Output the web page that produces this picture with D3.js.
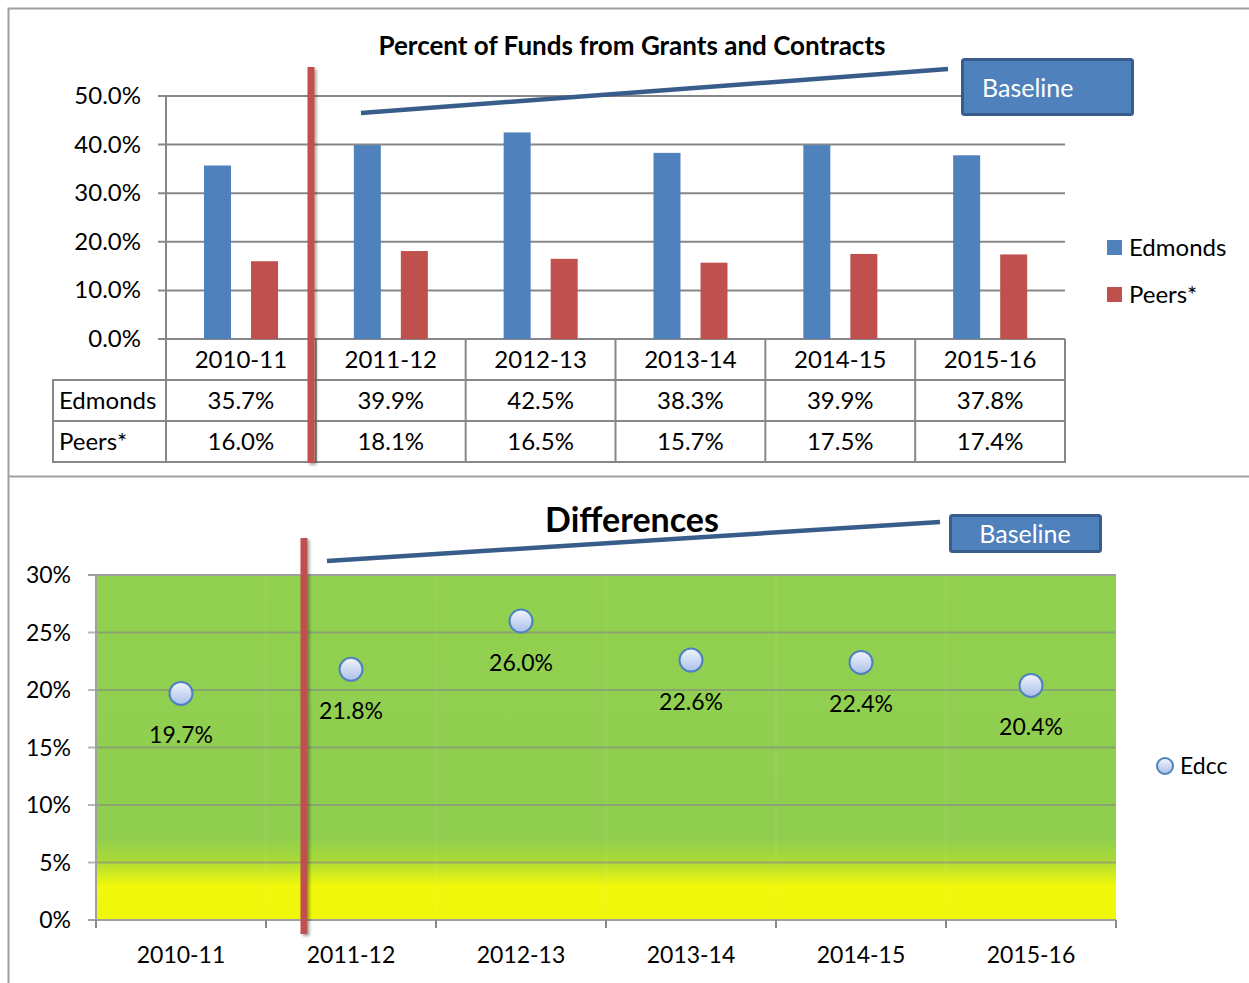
<!DOCTYPE html>
<html lang="en">
<head>
<script src="https://cdnjs.cloudflare.com/ajax/libs/d3/7.8.5/d3.min.js"></script>
<style>
  body { margin: 0; background: #fff; }
  text { font-family: Lato, "Open Sans", sans-serif; fill: #000; }
</style>
</head>
<body>
<svg id="chart" width="1249" height="983"></svg>
<script>
  // data
  const categories = ["2010-11", "2011-12", "2012-13", "2013-14", "2014-15", "2015-16"];
  const seriesNames = ["Edmonds", "Peers*"];
  const edmonds = [35.7, 39.9, 42.5, 38.3, 39.9, 37.8];
  const peers = [16.0, 18.1, 16.5, 15.7, 17.5, 17.4];
  const differences = [19.7, 21.8, 26.0, 22.6, 22.4, 20.4];
  const topTicks = [0, 10, 20, 30, 40, 50];
  const bottomTicks = [0, 5, 10, 15, 20, 25, 30];

  const blue = "#4f81bd", red = "#c0504d", gridCol = "#878787", darkBlue = "#385d8a";
  const fs = 24, fs2 = 23;

  const svg = d3.select("#chart");
  const defs = svg.append("defs");

  const shadow = defs.append("filter").attr("id", "shadow")
    .attr("x", "-100%").attr("y", "-5%").attr("width", "300%").attr("height", "110%");
  shadow.append("feDropShadow").attr("dx", 2).attr("dy", 2).attr("stdDeviation", 1.5)
    .attr("flood-color", "#000").attr("flood-opacity", 0.35);

  const bg = defs.append("linearGradient").attr("id", "bgGrad")
    .attr("x1", 0).attr("y1", 0).attr("x2", 0).attr("y2", 1);
  bg.append("stop").attr("offset", "0%").attr("stop-color", "#92d050");
  bg.append("stop").attr("offset", "76%").attr("stop-color", "#8fce4f");
  bg.append("stop").attr("offset", "82%").attr("stop-color", "#a6d83a");
  bg.append("stop").attr("offset", "90%").attr("stop-color", "#f0f80c");
  bg.append("stop").attr("offset", "100%").attr("stop-color", "#f2f70a");

  const dotGrad = defs.append("linearGradient").attr("id", "dotGrad")
    .attr("x1", 0).attr("y1", 0).attr("x2", 0).attr("y2", 1);
  dotGrad.append("stop").attr("offset", "0%").attr("stop-color", "#f2f5fc");
  dotGrad.append("stop").attr("offset", "100%").attr("stop-color", "#a9bfe9");

  // outer frame
  svg.append("path")
    .attr("d", "M8.5,983 V8.5 H1249 M8,476.5 H1249")
    .attr("fill", "none").attr("stroke", "#a0a0a0").attr("stroke-width", 2);

  // ---------- top chart ----------
  const x = d3.scaleBand().domain(categories).range([166, 1065]);
  const xs = d3.scaleBand().domain(seriesNames).range([38, 112]).paddingInner(0.426);
  const y = d3.scaleLinear().domain([0, 50]).range([339, 96]);

  const topG = svg.append("g");

  topG.append("text")
    .attr("x", 632).attr("y", 55).attr("text-anchor", "middle")
    .attr("font-size", 26).attr("font-weight", "bold")
    .text("Percent of Funds from Grants and Contracts");

  topG.selectAll(".grid").data(topTicks).enter().append("line")
    .attr("x1", 158).attr("x2", 1065)
    .attr("y1", d => y(d)).attr("y2", d => y(d))
    .attr("stroke", gridCol).attr("stroke-width", 2);

  topG.append("line").attr("x1", 166).attr("x2", 166).attr("y1", 96).attr("y2", 339)
    .attr("stroke", gridCol).attr("stroke-width", 2);

  topG.selectAll(".ytick").data(topTicks).enter().append("text")
    .attr("x", 141).attr("y", d => y(d) + 8).attr("text-anchor", "end")
    .attr("font-size", fs).text(d => d.toFixed(1) + "%");

  const barData = categories.flatMap((c, i) => [
    { cat: c, s: seriesNames[0], v: edmonds[i], col: blue },
    { cat: c, s: seriesNames[1], v: peers[i], col: red }
  ]);
  topG.selectAll(".bar").data(barData).enter().append("rect")
    .attr("x", d => x(d.cat) + xs(d.s))
    .attr("width", xs.bandwidth())
    .attr("y", d => y(d.v))
    .attr("height", d => y(0) - y(d.v))
    .attr("fill", d => d.col);

  // data table
  const tbl = topG.append("g").attr("stroke", gridCol).attr("stroke-width", 2).attr("fill", "none");
  [380, 421, 462].forEach(ry => {
    tbl.append("line").attr("x1", 53).attr("x2", 1065).attr("y1", ry).attr("y2", ry);
  });
  tbl.append("line").attr("x1", 53).attr("x2", 53).attr("y1", 379).attr("y2", 463);
  tbl.selectAll(".vline").data(categories.map(c => x(c)).concat([1065])).enter().append("line")
    .attr("x1", d => d).attr("x2", d => d).attr("y1", 339).attr("y2", 463);

  topG.selectAll(".head").data(categories).enter().append("text")
    .attr("x", d => x(d) + x.bandwidth() / 2).attr("y", 368).attr("text-anchor", "middle")
    .attr("font-size", fs).text(d => d);
  topG.append("text").attr("x", 59).attr("y", 409).attr("font-size", fs).text(seriesNames[0]);
  topG.append("text").attr("x", 59).attr("y", 450).attr("font-size", fs).text(seriesNames[1]);
  topG.selectAll(".ed").data(edmonds).enter().append("text")
    .attr("x", (d, i) => x(categories[i]) + x.bandwidth() / 2).attr("y", 409)
    .attr("text-anchor", "middle").attr("font-size", fs).text(d => d.toFixed(1) + "%");
  topG.selectAll(".pe").data(peers).enter().append("text")
    .attr("x", (d, i) => x(categories[i]) + x.bandwidth() / 2).attr("y", 450)
    .attr("text-anchor", "middle").attr("font-size", fs).text(d => d.toFixed(1) + "%");

  // legend
  [blue, red].forEach((c, i) => {
    topG.append("rect").attr("x", 1107).attr("y", 240 + i * 47).attr("width", 15).attr("height", 15).attr("fill", c);
    topG.append("text").attr("x", 1129).attr("y", 256 + i * 47).attr("font-size", fs).text(seriesNames[i]);
  });

  // baseline annotation
  topG.append("rect").attr("x", 307.5).attr("y", 67).attr("width", 7).attr("height", 396)
    .attr("fill", red).attr("filter", "url(#shadow)");
  topG.append("line").attr("x1", 361).attr("y1", 113).attr("x2", 948).attr("y2", 69)
    .attr("stroke", darkBlue).attr("stroke-width", 4.5);
  topG.append("rect").attr("x", 962.5).attr("y", 59.5).attr("width", 170).attr("height", 55).attr("rx", 2)
    .attr("fill", blue).attr("stroke", darkBlue).attr("stroke-width", 3);
  topG.append("text").attr("x", 982).attr("y", 97).attr("font-size", 25)
    .style("fill", "#fff").text("Baseline");

  // ---------- bottom chart ----------
  const x2 = d3.scaleBand().domain(categories).range([96, 1116]);
  const y2 = d3.scaleLinear().domain([0, 30]).range([920, 575]);
  const bot = svg.append("g");

  bot.append("rect").attr("x", 96).attr("y", 575).attr("width", 1020).attr("height", 345)
    .attr("fill", "url(#bgGrad)");

  bot.selectAll(".vfaint").data(categories.slice(1)).enter().append("line")
    .attr("x1", d => x2(d)).attr("x2", d => x2(d)).attr("y1", 575).attr("y2", 920)
    .attr("stroke", "#ffffff").attr("stroke-opacity", 0.12).attr("stroke-width", 1);

  bot.selectAll(".grid2").data(bottomTicks).enter().append("line")
    .attr("x1", 88).attr("x2", 1116)
    .attr("y1", d => y2(d)).attr("y2", d => y2(d))
    .attr("stroke", d => (d === 0 || d === 30) ? "#a0a0a0" : gridCol)
    .attr("stroke-opacity", d => (d === 0 || d === 30) ? 1 : 0.6)
    .attr("stroke-width", 2);

  bot.append("line").attr("x1", 96).attr("x2", 96).attr("y1", 575).attr("y2", 920)
    .attr("stroke", "#a0a0a0").attr("stroke-width", 2);

  bot.selectAll(".ytick2").data(bottomTicks).enter().append("text")
    .attr("x", 71).attr("y", d => y2(d) + 8).attr("text-anchor", "end")
    .attr("font-size", fs2).text(d => d + "%");

  bot.selectAll(".xtick").data(categories.map(c => x2(c)).concat([1116])).enter().append("line")
    .attr("x1", d => d).attr("x2", d => d).attr("y1", 920).attr("y2", 928)
    .attr("stroke", "#8a8a8a").attr("stroke-width", 2);

  bot.selectAll(".xlab").data(categories).enter().append("text")
    .attr("x", d => x2(d) + x2.bandwidth() / 2).attr("y", 963).attr("text-anchor", "middle")
    .attr("font-size", fs2).text(d => d);

  bot.append("text").attr("x", 632).attr("y", 532).attr("text-anchor", "middle")
    .attr("font-size", 34).attr("font-weight", "bold").text("Differences");

  bot.selectAll(".dot").data(differences).enter().append("circle")
    .attr("cx", (d, i) => x2(categories[i]) + x2.bandwidth() / 2)
    .attr("cy", d => y2(d)).attr("r", 11.5)
    .attr("fill", "url(#dotGrad)").attr("stroke", blue).attr("stroke-width", 2);

  bot.selectAll(".dlab").data(differences).enter().append("text")
    .attr("x", (d, i) => x2(categories[i]) + x2.bandwidth() / 2)
    .attr("y", d => y2(d) + 50).attr("text-anchor", "middle")
    .attr("font-size", fs2).text(d => d.toFixed(1) + "%");

  // legend
  bot.append("circle").attr("cx", 1165).attr("cy", 766).attr("r", 8)
    .attr("fill", "url(#dotGrad)").attr("stroke", blue).attr("stroke-width", 2);
  bot.append("text").attr("x", 1180).attr("y", 774).attr("font-size", fs2).text("Edcc");

  // baseline annotation
  bot.append("rect").attr("x", 300.5).attr("y", 538).attr("width", 7).attr("height", 396)
    .attr("fill", red).attr("filter", "url(#shadow)");
  bot.append("line").attr("x1", 327).attr("y1", 561).attr("x2", 940).attr("y2", 522)
    .attr("stroke", darkBlue).attr("stroke-width", 4.5);
  bot.append("rect").attr("x", 950.5).attr("y", 515.5).attr("width", 150).attr("height", 36).attr("rx", 2)
    .attr("fill", blue).attr("stroke", darkBlue).attr("stroke-width", 3);
  bot.append("text").attr("x", 1025).attr("y", 543).attr("text-anchor", "middle").attr("font-size", 25)
    .style("fill", "#fff").text("Baseline");
</script>
</body>
</html>
